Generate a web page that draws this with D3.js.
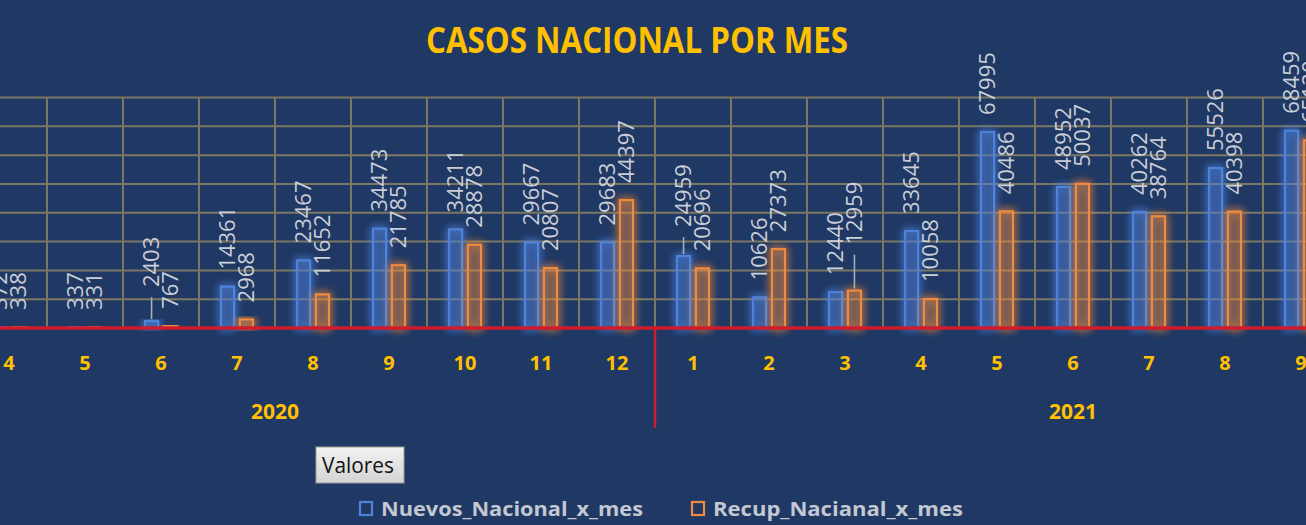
<!doctype html>
<html lang="es">
<head>
<meta charset="utf-8">
<title>Casos nacional por mes</title>
<script src="https://cdn.jsdelivr.net/npm/d3@7"></script>
<style>
  html, body { margin: 0; padding: 0; background: #203864; overflow: hidden; }
  svg { display: block; }
</style>
</head>
<body>
<svg id="chart"></svg>
<script>
// months shown on the axis (the first and last ones fall outside the visible area)
const meses = [3, 4, 5, 6, 7, 8, 9, 10, 11, 12, 1, 2, 3, 4, 5, 6, 7, 8, 9, 10, 11];
const anios = [2020, 2020, 2020, 2020, 2020, 2020, 2020, 2020, 2020, 2020,
               2021, 2021, 2021, 2021, 2021, 2021, 2021, 2021, 2021, 2021, 2021];
// null = month not visible in the picture
const nuevos = [null, 372, 337, 2403, 14361, 23467, 34473, 34211, 29667, 29683,
                24959, 10626, 12440, 33645, 67995, 48952, 40262, 55526, 68459, null, null];
const recuperados = [null, 338, 331, 767, 2968, 11652, 21785, 28878, 20807, 44397,
                     20696, 27373, 12959, 10058, 40486, 50037, 38764, 40398, 65120, null, null];
const yTicks = [10000, 20000, 30000, 40000, 50000, 60000, 70000, 80000];
const series = ["Nuevos_Nacional_x_mes", "Recup_Nacianal_x_mes"];

const width = 1306, height = 525;
const azul = "#4f83db", naranja = "#f08a3e", amarillo = "#ffc000";
const grid = "#7b7762", rojo = "#cf1b2c", etiqueta = "#c9ced9";

// labels that were dragged up in the original, with a leader line
const movidos = { "0-3": 17, "0-10": 12, "1-12": 29 };

const svg = d3.select("#chart").attr("width", width).attr("height", height);

const defs = svg.append("defs");
function glow(id, sd) {
    const f = defs.append("filter").attr("id", id)
        .attr("x", "-150%").attr("y", "-30%").attr("width", "400%").attr("height", "160%");
    f.append("feGaussianBlur").attr("in", "SourceGraphic").attr("stdDeviation", sd).attr("result", "b");
    const m = f.append("feMerge");
    m.append("feMergeNode").attr("in", "b");
    m.append("feMergeNode").attr("in", "b");
    m.append("feMergeNode").attr("in", "SourceGraphic");
}
glow("glowAzul", 4);
glow("glowNaranja", 4);
const grad = defs.append("linearGradient").attr("id", "boton").attr("x1", 0).attr("y1", 0).attr("x2", 0).attr("y2", 1);
grad.append("stop").attr("offset", "0%").attr("stop-color", "#f2f2f2");
grad.append("stop").attr("offset", "100%").attr("stop-color", "#d4d4d4");

const keys = d3.range(meses.length);
const x = d3.scaleBand().domain(keys).range([-105, -105 + 76 * meses.length]);
const x1 = d3.scaleBand().domain([0, 1]).range([21, 55]).paddingInner(0.2);
const y = d3.scaleLinear().domain([0, 80000]).range([328, 97.5]);

// title
svg.append("text")
    .attr("x", 637).attr("y", 53)
    .attr("text-anchor", "middle")
    .attr("font-family", "Open Sans, sans-serif")
    .attr("font-weight", "bold")
    .attr("font-size", 35)
    .attr("textLength", 422).attr("lengthAdjust", "spacingAndGlyphs")
    .attr("fill", amarillo)
    .text("CASOS NACIONAL POR MES");

// horizontal gridlines
svg.append("g").selectAll("line")
    .data(yTicks).join("line")
    .attr("x1", 0).attr("x2", width)
    .attr("y1", d => y(d)).attr("y2", d => y(d))
    .attr("stroke", grid).attr("stroke-width", 2);

// vertical gridlines at category boundaries
svg.append("g").selectAll("line")
    .data(keys.slice(1)).join("line")
    .attr("x1", d => x(d)).attr("x2", d => x(d))
    .attr("y1", y(80000)).attr("y2", y(0))
    .attr("stroke", grid).attr("stroke-width", 2);

// bars
const filas = keys.filter(i => nuevos[i] != null);
const grupos = svg.append("g").selectAll("g")
    .data(filas).join("g")
    .attr("transform", i => `translate(${x(i)},0)`);

const valores = [nuevos, recuperados];
const colores = [azul, naranja];
[0, 1].forEach(s => {
    grupos.append("rect")
        .attr("x", x1(s) + 1)
        .attr("width", x1.bandwidth() - 2)
        .attr("y", i => y(valores[s][i]))
        .attr("height", i => y(0) - y(valores[s][i]))
        .attr("fill", s === 0 ? "rgba(79,131,219,0.12)" : "rgba(240,138,62,0.10)")
        .attr("stroke", colores[s])
        .attr("stroke-width", 2.2)
        .attr("filter", s === 0 ? "url(#glowAzul)" : "url(#glowNaranja)");
});

// data labels, rotated
[0, 1].forEach(s => {
    grupos.each(function(i) {
        const g = d3.select(this);
        const v = valores[s][i];
        const cx = x1(s) + x1.bandwidth() / 2;
        const extra = movidos[s + "-" + i] || 0;
        const base = y(v) - 17 - extra;
        g.append("text")
            .attr("transform", `translate(${cx},${base}) rotate(-90)`)
            .attr("dy", "0.36em")
            .attr("font-family", "Open Sans, sans-serif")
            .attr("font-size", 22)
            .attr("fill", etiqueta)
            .text(v);
        if (extra) {
            g.append("line")
                .attr("x1", cx).attr("x2", cx)
                .attr("y1", base + 10).attr("y2", y(v) - 2)
                .attr("stroke", "#a9adb6").attr("stroke-width", 1.6);
        }
    });
});

// baseline and year separator
svg.append("line")
    .attr("x1", 0).attr("x2", width)
    .attr("y1", y(0)).attr("y2", y(0))
    .attr("stroke", rojo).attr("stroke-width", 3.5);

const inicio2021 = meses.findIndex((m, i) => anios[i] === 2021);
svg.append("line")
    .attr("x1", x(inicio2021)).attr("x2", x(inicio2021))
    .attr("y1", y(0)).attr("y2", 428)
    .attr("stroke", rojo).attr("stroke-width", 2.5);

// month labels
svg.append("g").selectAll("text")
    .data(keys).join("text")
    .attr("x", i => x(i) + x.bandwidth() / 2)
    .attr("y", 370)
    .attr("text-anchor", "middle")
    .attr("font-family", "Open Sans, sans-serif")
    .attr("font-weight", "bold")
    .attr("font-size", 20)
    .attr("fill", amarillo)
    .text(i => meses[i]);

// year labels centred under their months
const anioGrupos = d3.groups(keys, i => anios[i]);
svg.append("g").selectAll("text")
    .data(anioGrupos).join("text")
    .attr("x", d => (x(d[1][0]) + x(d[1][d[1].length - 1]) + x.bandwidth()) / 2)
    .attr("y", 419)
    .attr("text-anchor", "middle")
    .attr("font-family", "Open Sans, sans-serif")
    .attr("font-weight", "bold")
    .attr("font-size", 21)
    .attr("fill", amarillo)
    .text(d => d[0]);

// "Valores" field button
svg.append("rect")
    .attr("x", 316).attr("y", 447).attr("width", 88).attr("height", 36)
    .attr("fill", "url(#boton)").attr("stroke", "#9c9c9c");
svg.append("text")
    .attr("x", 322).attr("y", 473)
    .attr("font-family", "Open Sans, sans-serif")
    .attr("font-size", 21)
    .attr("textLength", 72).attr("lengthAdjust", "spacingAndGlyphs")
    .attr("fill", "#111")
    .text("Valores");

// legend
const leyenda = [
    { nombre: series[0], color: azul, x: 359, largo: 262 },
    { nombre: series[1], color: naranja, x: 691, largo: 250 }
];
const ley = svg.append("g").selectAll("g").data(leyenda).join("g")
    .attr("transform", d => `translate(${d.x},0)`);
ley.append("rect")
    .attr("x", 1).attr("y", 502).attr("width", 12).attr("height", 13)
    .attr("fill", "none").attr("stroke", d => d.color).attr("stroke-width", 2.2);
ley.append("text")
    .attr("x", 22).attr("y", 516)
    .attr("font-family", "Open Sans, sans-serif")
    .attr("font-weight", "bold")
    .attr("font-size", 19)
    .attr("textLength", d => d.largo).attr("lengthAdjust", "spacingAndGlyphs")
    .attr("fill", "#c3c8d2")
    .text(d => d.nombre);
</script>
</body>
</html>
